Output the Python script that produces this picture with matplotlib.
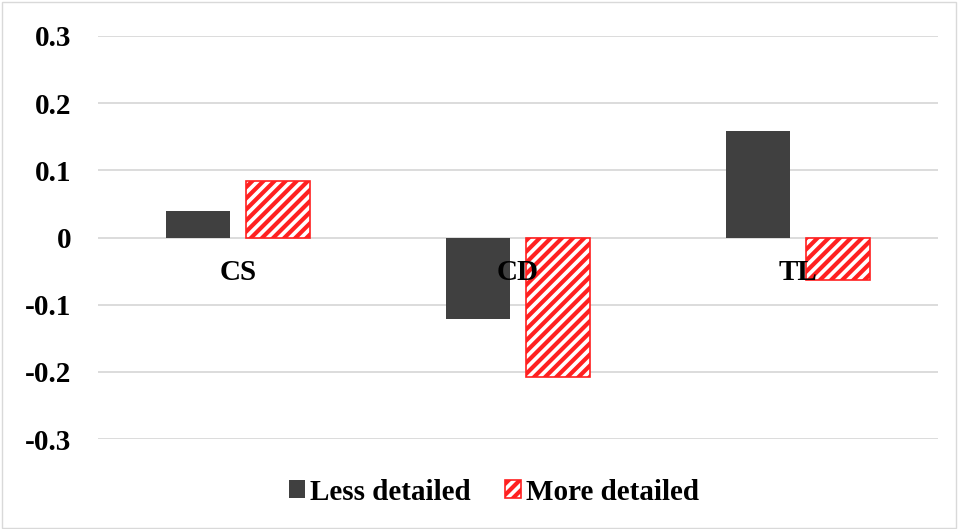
import matplotlib.pyplot as plt
import numpy as np

categories = ["CS", "CD", "TL"]
less_detailed = [0.039, -0.122, 0.158]
more_detailed = [0.084, -0.207, -0.064]

plt.rcParams['font.family'] = ['Liberation Serif', 'DejaVu Serif']
plt.rcParams['font.weight'] = 'bold'
plt.rcParams['hatch.color'] = '#ff2020'
plt.rcParams['hatch.linewidth'] = 3.0

fig = plt.figure(figsize=(9.58, 5.29), dpi=100)
ax = fig.add_axes([98 / 958, 1 - 439 / 529, 840 / 958, 403 / 529])

x = np.arange(len(categories))
w = 0.229
off = (w + 0.057) / 2
ax.bar(x - off, less_detailed, w, color='#404040', label='Less detailed', zorder=3)
ax.bar(x + off, more_detailed, w, facecolor='white', edgecolor='#ff2020',
       hatch='///', linewidth=1.2, label='More detailed', zorder=3)

ax.set_xlim(-0.5, 2.5)
ax.set_ylim(-0.3, 0.3)
ax.set_yticks([-0.3, -0.2, -0.1, 0, 0.1, 0.2, 0.3])
ax.set_yticklabels(['-0.3', '-0.2', '-0.1', '0', '0.1', '0.2', '0.3'])
ax.yaxis.grid(True, color='#d9d9d9', linewidth=1.3, zorder=0)
ax.set_axisbelow(True)
ax.tick_params(axis='y', length=0, labelsize=21, pad=19)
for s in ax.spines.values():
    s.set_visible(False)
ax.set_xticks([])
for xi, c in zip(x, categories):
    ax.text(xi, -0.052, c, ha='center', va='center', fontsize=21, fontweight='bold', zorder=4)

fig.legend(loc='center', bbox_to_anchor=(494 / 958, 1 - 492 / 529), ncol=2, frameon=False,
           fontsize=21, handlelength=0.55, handleheight=0.55, handletextpad=0.2,
           columnspacing=1.15)

fig.patches.append(plt.Rectangle((0.002, 0.002), 0.996, 0.994, transform=fig.transFigure,
                                 fill=False, edgecolor='#d9d9d9', linewidth=1))
fig.savefig('out.png', dpi=100)
